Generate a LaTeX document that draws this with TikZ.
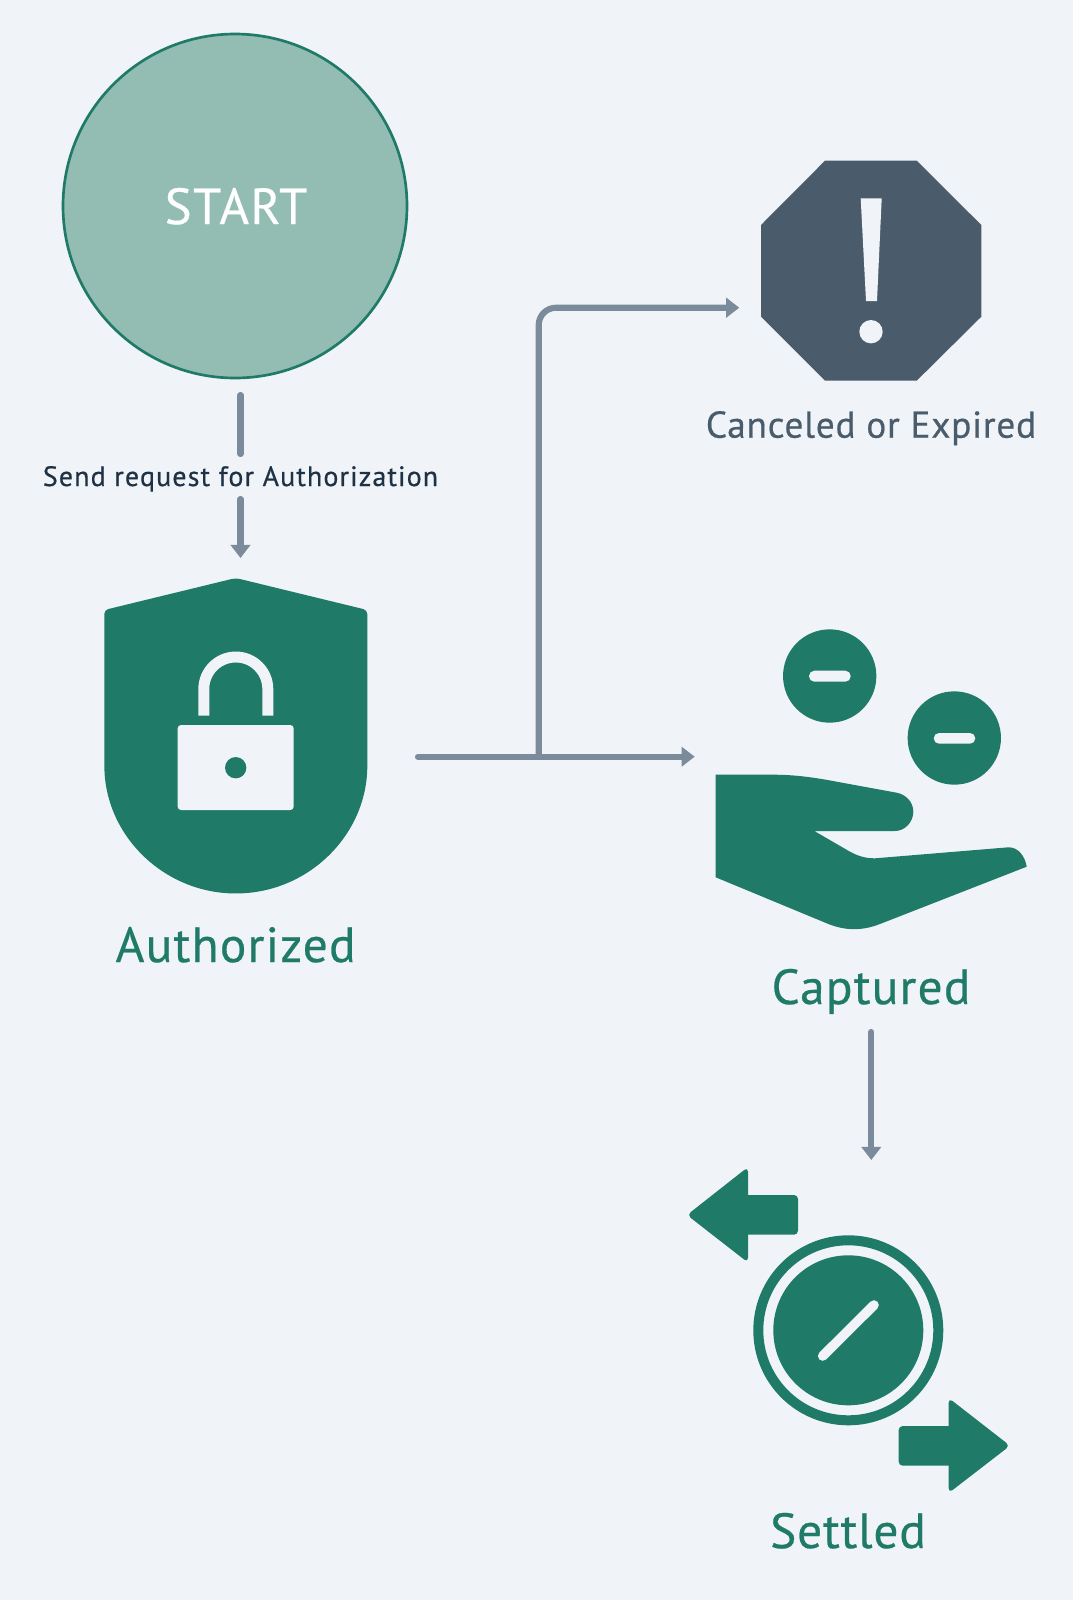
\documentclass[tikz,border=0pt]{standalone}
\usepackage{fontspec}
\setmainfont{PT Sans}
\usetikzlibrary{arrows.meta}
\definecolor{bgc}{HTML}{F0F4F8}
\definecolor{grn}{HTML}{1F7A67}
\definecolor{lgrn}{HTML}{93BDB3}
\definecolor{slate}{HTML}{4A5C6B}
\definecolor{arrc}{HTML}{7B8B9B}
\definecolor{ink}{HTML}{1F3245}
\newcommand{\fs}[2]{\fontsize{#1}{#1}\selectfont\addfontfeature{LetterSpace=#2,FakeBold=0.5}}
\tikzset{
 x=0.75pt,y=-0.75pt,
 lbl/.style={inner sep=0pt,anchor=base},
 conn/.style={draw=arrc,line width=4.6pt,line cap=round},
 tip/.style={-{Triangle[length=9.8pt,width=14.4pt]}},
 icon/.style={fill=grn,draw=none},
 hollow/.style={fill=bgc,draw=none},
}
\begin{document}
\begin{tikzpicture}
\path[use as bounding box,fill=bgc] (0,0) rectangle (1073,1600);
% start
\node[circle,draw=grn,fill=lgrn,line width=2pt,minimum size=344*0.75pt,inner sep=0pt] (start) at (235,206) {};
\node[lbl,text=white] (starttxt) at (236,224) {\fs{38}{3}START};
% connector 1
\coordinate (a1) at (240.5,395);
\coordinate (a2) at (240.5,454);
\coordinate (a3) at (240.5,499);
\coordinate (a4) at (240.5,558);
\draw[conn] (a1) -- (a2);
\draw[conn,tip] (a3) -- (a4);
\node[lbl,text=ink] (req) at (240.5,486) {\fs{21}{4}Send request for Authorization};
% shield
\path[icon,rounded corners=3pt] (235.8,578) -- (367.3,610) -- (367.3,762)
   arc[start angle=0,end angle=-180,radius=98.6pt] -- (104.3,610) -- cycle;
\draw[draw=bgc,line width=8.2pt] (203.8,715.7) -- (203.8,689) arc[start angle=180,end angle=0,radius=24pt] -- +(0,26.7);
\path[hollow,rounded corners=2.5pt] (177.7,725) rectangle (293.7,810);
\node[circle,fill=grn,inner sep=0pt,minimum size=16pt] (hole) at (235.7,767.7) {};
\node[lbl,text=grn] (auth) at (235.6,962) {\fs{37}{2.6}Authorized};
% branch
\coordinate (b0) at (418,756.7);
\coordinate (b1) at (694.7,756.7);
\coordinate (b2) at (538.7,756.7);
\coordinate (b3) at (739.3,307.7);
\draw[conn,tip] (b0) -- (b1);
\draw[conn,tip,rounded corners=13pt] (b2) -- (538.7,307.7) -- (b3);
% octagon
\path[fill=slate] (825,160.7) -- (916.7,160.7) -- (981.3,225) -- (981.3,316.7) -- (916.7,380.7) -- (825,380.7) -- (761,316.7) -- (761,225) -- cycle;
\path[hollow] (860.7,198.3) -- (881.7,198.3) -- (877,301) -- (866,301) -- cycle;
\node[circle,fill=bgc,inner sep=0pt,minimum size=17.5pt] (dot) at (871,331.7) {};
\node[lbl,text=slate] (canc) at (871,437.7) {\fs{28}{2}Canceled or Expired};
% hand
\node[circle,icon,inner sep=0pt,minimum size=70pt] (c1) at (829.7,676) {};
\node[circle,icon,inner sep=0pt,minimum size=70pt] (c2) at (954.3,738) {};
\path[hollow,rounded corners=4pt] (809,670.7) rectangle (850.7,681.7);
\path[hollow,rounded corners=4pt] (933.7,733) rectangle (975.3,743.7);
\path[icon] (715.7,774.7) -- (773.3,774.7) .. controls (795,774.7) and (815,777.5) .. (836.7,781.7)
  -- (896.7,792.7) .. controls (906,794.5) and (913.3,802) .. (913.3,811.7)
  .. controls (913.3,822) and (905,831) .. (895,831) -- (814.3,831) -- (850,851.7)
  .. controls (858,856) and (865,858.3) .. (875,858.3) -- (1008.3,847.3)
  .. controls (1018,847) and (1025,856) .. (1026.7,866.7) -- (880,924)
  .. controls (862,931) and (845,931) .. (826.7,923.3) -- (715.7,877.3) -- cycle;
\node[lbl,text=grn] (capt) at (871,1004) {\fs{37}{2.5}Captured};
% connector capture settled
\coordinate (c3) at (871.3,1032);
\coordinate (c4) at (871.3,1160);
\draw[conn,tip] (c3) -- (c4);
% settled
\node[circle,draw=grn,line width=7.5pt,fill=none,minimum size=135pt,inner sep=0pt] (ring) at (848.3,1330.3) {};
\node[circle,icon,inner sep=0pt,minimum size=112.5pt] (disc) at (848.3,1330.3) {};
\draw[draw=bgc,line width=7.2pt,line cap=round] (822.7,1356) -- (874,1305);
\path[icon,rounded corners=3.5pt] (687,1215) -- (748,1167) -- (748,1262.5) -- cycle;
\path[icon,rounded corners=3pt] (735,1195) rectangle (798,1234.7);
\path[icon,rounded corners=3.5pt] (1010,1445.7) -- (948.7,1398) -- (948.7,1493) -- cycle;
\path[icon,rounded corners=3pt] (898.7,1426) rectangle (960,1465.7);
\node[lbl,text=grn] (sett) at (848,1548) {\fs{37}{1.7}Settled};
\end{tikzpicture}
\end{document}
